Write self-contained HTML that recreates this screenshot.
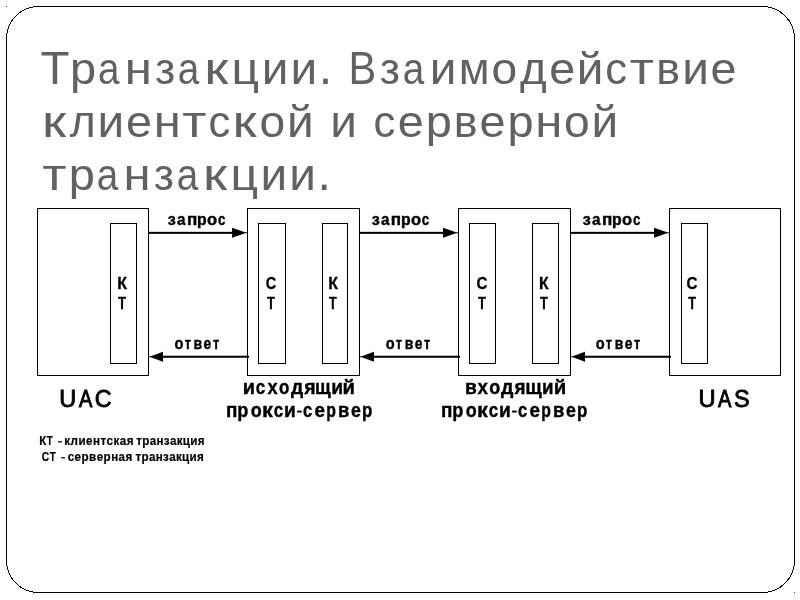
<!DOCTYPE html>
<html><head><meta charset="utf-8">
<style>
html,body{margin:0;padding:0;background:#fff;}
body{width:800px;height:600px;overflow:hidden;font-family:"Liberation Sans",sans-serif;}
svg{display:block;filter:grayscale(1);}
text{font-family:"Liberation Sans",sans-serif;}
</style></head><body>
<svg width="800" height="600" viewBox="0 0 800 600">
<rect x="0" y="0" width="800" height="600" fill="#fff"/>
<rect x="6.5" y="6.5" width="788" height="586" rx="32" ry="32" fill="none" stroke="#000" stroke-width="1" shape-rendering="crispEdges"/>
<rect x="6" y="6" width="1" height="1" fill="#333"/><rect x="794" y="592" width="1" height="1" fill="#333"/>
<g fill="none" stroke="#000" stroke-width="1" shape-rendering="crispEdges">
<rect x="37.5" y="208.5" width="111" height="167"/>
<rect x="110.5" y="223.5" width="26" height="140"/>
<rect x="247.5" y="208.5" width="112" height="167"/>
<rect x="258.5" y="223.5" width="27" height="140"/>
<rect x="322.5" y="223.5" width="25" height="140"/>
<rect x="458.5" y="208.5" width="112" height="167"/>
<rect x="469.5" y="223.5" width="26" height="140"/>
<rect x="532.5" y="223.5" width="26" height="140"/>
<rect x="669.5" y="208.5" width="111" height="167"/>
<rect x="681.5" y="223.5" width="26" height="140"/>
</g>
<g fill="#000">
<rect x="149" y="231.85" width="84.0" height="2"/><polygon points="232.0,227.85 232.0,237.85 245.0,233.35 247.5,233.35 247.5,232.35 245.0,232.35"/>
<rect x="360" y="231.85" width="84.0" height="2"/><polygon points="443.0,227.85 443.0,237.85 456.0,233.35 458.5,233.35 458.5,232.35 456.0,232.35"/>
<rect x="571" y="231.85" width="84.0" height="2"/><polygon points="654.0,227.85 654.0,237.85 667.0,233.35 669.5,233.35 669.5,232.35 667.0,232.35"/>
<rect x="162" y="355.75" width="87" height="2"/><polygon points="163,351.75 163,361.75 150.8,357.35 149,357.35 149,356.15 150.8,356.15"/>
<rect x="373" y="355.75" width="87" height="2"/><polygon points="374,351.75 374,361.75 361.8,357.35 360,357.35 360,356.15 361.8,356.15"/>
<rect x="584" y="355.75" width="87" height="2"/><polygon points="585,351.75 585,361.75 572.8,357.35 571,357.35 571,356.15 572.8,356.15"/>
</g>
<g font-size="43" fill="#616161">
<text transform="translate(40.45,83.75) scale(1.103,1.068)">Т</text>
<text transform="translate(69.91,83.75) scale(1.091,1.032)">р</text>
<text transform="translate(97.98,83.75) scale(0.899,1.032)">а</text>
<text transform="translate(124.83,83.75) scale(1.141,1.033)">н</text>
<text transform="translate(154.94,83.75) scale(1.029,1.043)">з</text>
<text transform="translate(177.85,83.75) scale(0.899,1.032)">а</text>
<text transform="translate(204.28,83.75) scale(1.281,1.033)">к</text>
<text transform="translate(231.59,83.75) scale(1.120,1.033)">ц</text>
<text transform="translate(261.73,83.75) scale(1.111,1.033)">и</text>
<text transform="translate(290.53,83.75) scale(1.111,1.033)">и</text>
<text transform="translate(318.66,83.75) scale(1.125,1.167)">.</text>
<text transform="translate(348.57,83.75) scale(0.967,1.068)">В</text>
<text transform="translate(379.77,83.75) scale(1.029,1.043)">з</text>
<text transform="translate(402.70,83.75) scale(0.899,1.032)">а</text>
<text transform="translate(429.64,83.75) scale(1.111,1.033)">и</text>
<text transform="translate(458.64,83.75) scale(1.043,1.033)">м</text>
<text transform="translate(491.42,83.75) scale(1.074,1.032)">о</text>
<text transform="translate(519.92,83.75) scale(1.063,1.033)">д</text>
<text transform="translate(549.13,83.75) scale(1.086,1.032)">е</text>
<text transform="translate(576.76,83.75) scale(1.111,1.023)">й</text>
<text transform="translate(605.37,83.75) scale(1.014,1.032)">с</text>
<text transform="translate(629.70,83.75) scale(1.233,1.033)">т</text>
<text transform="translate(656.16,83.75) scale(1.042,1.033)">в</text>
<text transform="translate(682.14,83.75) scale(1.111,1.033)">и</text>
<text transform="translate(710.62,83.75) scale(1.086,1.032)">е</text>
<text transform="translate(41.96,136.75) scale(1.281,1.033)">к</text>
<text transform="translate(69.85,136.75) scale(1.034,1.033)">л</text>
<text transform="translate(97.61,136.75) scale(1.111,1.033)">и</text>
<text transform="translate(126.09,136.75) scale(1.086,1.032)">е</text>
<text transform="translate(153.63,136.75) scale(1.141,1.033)">н</text>
<text transform="translate(182.34,136.75) scale(1.233,1.033)">т</text>
<text transform="translate(208.39,136.75) scale(1.014,1.032)">с</text>
<text transform="translate(232.57,136.75) scale(1.281,1.033)">к</text>
<text transform="translate(259.59,136.75) scale(1.074,1.032)">о</text>
<text transform="translate(287.04,136.75) scale(1.111,1.023)">й</text>
<text transform="translate(330.36,136.75) scale(1.111,1.033)">и</text>
<text transform="translate(373.50,136.75) scale(1.014,1.032)">с</text>
<text transform="translate(397.85,136.75) scale(1.086,1.032)">е</text>
<text transform="translate(425.82,136.75) scale(1.091,1.032)">р</text>
<text transform="translate(453.83,136.75) scale(1.042,1.033)">в</text>
<text transform="translate(479.49,136.75) scale(1.086,1.032)">е</text>
<text transform="translate(507.46,136.75) scale(1.091,1.032)">р</text>
<text transform="translate(535.17,136.75) scale(1.141,1.033)">н</text>
<text transform="translate(563.94,136.75) scale(1.074,1.032)">о</text>
<text transform="translate(591.39,136.75) scale(1.111,1.023)">й</text>
<text transform="translate(42.13,189.75) scale(1.233,1.033)">т</text>
<text transform="translate(68.69,189.75) scale(1.091,1.032)">р</text>
<text transform="translate(96.76,189.75) scale(0.899,1.032)">а</text>
<text transform="translate(123.61,189.75) scale(1.141,1.033)">н</text>
<text transform="translate(153.72,189.75) scale(1.029,1.043)">з</text>
<text transform="translate(176.63,189.75) scale(0.899,1.032)">а</text>
<text transform="translate(203.07,189.75) scale(1.281,1.033)">к</text>
<text transform="translate(230.38,189.75) scale(1.120,1.033)">ц</text>
<text transform="translate(260.53,189.75) scale(1.111,1.033)">и</text>
<text transform="translate(289.31,189.75) scale(1.111,1.033)">и</text>
<text transform="translate(317.44,189.75) scale(1.125,1.167)">.</text>
</g>
<g fill="#000">
<text transform="translate(167.84,224.8) scale(1.014,1)" font-size="16" font-weight="bold" stroke="#000" stroke-width="0.4">з</text>
<text transform="translate(177.07,224.8) scale(0.953,1)" font-size="16" font-weight="bold" stroke="#000" stroke-width="0.4">а</text>
<text transform="translate(186.88,224.8) scale(1.067,1)" font-size="16" font-weight="bold" stroke="#000" stroke-width="0.4">п</text>
<text transform="translate(197.06,224.8) scale(0.988,1)" font-size="16" font-weight="bold" stroke="#000" stroke-width="0.4">р</text>
<text transform="translate(207.07,224.8) scale(1.035,1)" font-size="16" font-weight="bold" stroke="#000" stroke-width="0.4">о</text>
<text transform="translate(217.93,224.8) scale(0.826,1)" font-size="16" font-weight="bold" stroke="#000" stroke-width="0.4">с</text>
<text transform="translate(371.74,224.8) scale(1.014,1)" font-size="16" font-weight="bold" stroke="#000" stroke-width="0.4">з</text>
<text transform="translate(380.97,224.8) scale(0.953,1)" font-size="16" font-weight="bold" stroke="#000" stroke-width="0.4">а</text>
<text transform="translate(390.78,224.8) scale(1.067,1)" font-size="16" font-weight="bold" stroke="#000" stroke-width="0.4">п</text>
<text transform="translate(400.96,224.8) scale(0.988,1)" font-size="16" font-weight="bold" stroke="#000" stroke-width="0.4">р</text>
<text transform="translate(410.97,224.8) scale(1.035,1)" font-size="16" font-weight="bold" stroke="#000" stroke-width="0.4">о</text>
<text transform="translate(421.83,224.8) scale(0.826,1)" font-size="16" font-weight="bold" stroke="#000" stroke-width="0.4">с</text>
<text transform="translate(582.84,224.8) scale(1.014,1)" font-size="16" font-weight="bold" stroke="#000" stroke-width="0.4">з</text>
<text transform="translate(592.07,224.8) scale(0.953,1)" font-size="16" font-weight="bold" stroke="#000" stroke-width="0.4">а</text>
<text transform="translate(601.88,224.8) scale(1.067,1)" font-size="16" font-weight="bold" stroke="#000" stroke-width="0.4">п</text>
<text transform="translate(612.06,224.8) scale(0.988,1)" font-size="16" font-weight="bold" stroke="#000" stroke-width="0.4">р</text>
<text transform="translate(622.07,224.8) scale(1.035,1)" font-size="16" font-weight="bold" stroke="#000" stroke-width="0.4">о</text>
<text transform="translate(632.93,224.8) scale(0.826,1)" font-size="16" font-weight="bold" stroke="#000" stroke-width="0.4">с</text>
<text transform="translate(174.62,348.8) scale(0.912,1)" font-size="16" font-weight="bold" stroke="#000" stroke-width="0.4">о</text>
<text transform="translate(184.76,348.8) scale(0.786,1)" font-size="16" font-weight="bold" stroke="#000" stroke-width="0.4">т</text>
<text transform="translate(193.58,348.8) scale(0.873,1)" font-size="16" font-weight="bold" stroke="#000" stroke-width="0.4">в</text>
<text transform="translate(203.60,348.8) scale(0.867,1)" font-size="16" font-weight="bold" stroke="#000" stroke-width="0.4">е</text>
<text transform="translate(212.96,348.8) scale(0.786,1)" font-size="16" font-weight="bold" stroke="#000" stroke-width="0.4">т</text>
<text transform="translate(385.72,348.8) scale(0.912,1)" font-size="16" font-weight="bold" stroke="#000" stroke-width="0.4">о</text>
<text transform="translate(395.86,348.8) scale(0.786,1)" font-size="16" font-weight="bold" stroke="#000" stroke-width="0.4">т</text>
<text transform="translate(404.68,348.8) scale(0.873,1)" font-size="16" font-weight="bold" stroke="#000" stroke-width="0.4">в</text>
<text transform="translate(414.70,348.8) scale(0.867,1)" font-size="16" font-weight="bold" stroke="#000" stroke-width="0.4">е</text>
<text transform="translate(424.06,348.8) scale(0.786,1)" font-size="16" font-weight="bold" stroke="#000" stroke-width="0.4">т</text>
<text transform="translate(595.72,348.8) scale(0.912,1)" font-size="16" font-weight="bold" stroke="#000" stroke-width="0.4">о</text>
<text transform="translate(605.86,348.8) scale(0.786,1)" font-size="16" font-weight="bold" stroke="#000" stroke-width="0.4">т</text>
<text transform="translate(614.68,348.8) scale(0.873,1)" font-size="16" font-weight="bold" stroke="#000" stroke-width="0.4">в</text>
<text transform="translate(624.70,348.8) scale(0.867,1)" font-size="16" font-weight="bold" stroke="#000" stroke-width="0.4">е</text>
<text transform="translate(634.06,348.8) scale(0.786,1)" font-size="16" font-weight="bold" stroke="#000" stroke-width="0.4">т</text>
<text transform="translate(59.31,407.25) scale(1.008,1)" font-size="23.3" font-weight="normal" stroke="#000" stroke-width="0.85">U</text>
<text transform="translate(79.08,407.25) scale(0.861,1)" font-size="23.3" font-weight="normal" stroke="#000" stroke-width="0.85">A</text>
<text transform="translate(94.82,407.25) scale(1.003,1)" font-size="23.3" font-weight="normal" stroke="#000" stroke-width="0.85">C</text>
<text transform="translate(698.50,407.25) scale(1.015,1)" font-size="23.3" font-weight="normal" stroke="#000" stroke-width="0.85">U</text>
<text transform="translate(718.07,407.25) scale(0.861,1)" font-size="23.3" font-weight="normal" stroke="#000" stroke-width="0.85">A</text>
<text transform="translate(734.06,407.25) scale(1.011,1)" font-size="23.3" font-weight="normal" stroke="#000" stroke-width="0.85">S</text>
<text transform="translate(39.23,444.9) scale(0.954,1)" font-size="12" font-weight="bold" stroke="#000" stroke-width="0.2">К</text>
<text transform="translate(46.85,444.9) scale(0.814,1)" font-size="12" font-weight="bold" stroke="#000" stroke-width="0.2">Т</text>
<text transform="translate(41.82,461) scale(0.852,1)" font-size="12" font-weight="bold" stroke="#000" stroke-width="0.2">С</text>
<text transform="translate(49.65,461) scale(0.814,1)" font-size="12" font-weight="bold" stroke="#000" stroke-width="0.2">Т</text>
<text transform="translate(242.75,393.9) scale(1.000,1)" font-size="20" font-weight="bold" stroke="#000" stroke-width="0.4">и</text>
<text transform="translate(255.81,393.9) scale(0.851,1)" font-size="20" font-weight="bold" stroke="#000" stroke-width="0.4">с</text>
<text transform="translate(267.52,393.9) scale(0.912,1)" font-size="20" font-weight="bold" stroke="#000" stroke-width="0.4">х</text>
<text transform="translate(279.12,393.9) scale(0.847,1)" font-size="20" font-weight="bold" stroke="#000" stroke-width="0.4">о</text>
<text transform="translate(291.06,393.9) scale(0.963,1)" font-size="20" font-weight="bold" stroke="#000" stroke-width="0.4">д</text>
<text transform="translate(304.25,393.9) scale(0.976,1)" font-size="20" font-weight="bold" stroke="#000" stroke-width="0.4">я</text>
<text transform="translate(315.11,393.9) scale(0.928,1)" font-size="20" font-weight="bold" stroke="#000" stroke-width="0.4">щ</text>
<text transform="translate(331.25,393.9) scale(0.968,1)" font-size="20" font-weight="bold" stroke="#000" stroke-width="0.4">и</text>
<text transform="translate(342.43,393.9) scale(1.016,1)" font-size="20" font-weight="bold" stroke="#000" stroke-width="0.4">й</text>
<text transform="translate(464.95,393.9) scale(0.965,1)" font-size="20" font-weight="bold" stroke="#000" stroke-width="0.4">в</text>
<text transform="translate(477.42,393.9) scale(0.940,1)" font-size="20" font-weight="bold" stroke="#000" stroke-width="0.4">х</text>
<text transform="translate(489.13,393.9) scale(0.898,1)" font-size="20" font-weight="bold" stroke="#000" stroke-width="0.4">о</text>
<text transform="translate(501.01,393.9) scale(0.975,1)" font-size="20" font-weight="bold" stroke="#000" stroke-width="0.4">д</text>
<text transform="translate(514.55,393.9) scale(0.946,1)" font-size="20" font-weight="bold" stroke="#000" stroke-width="0.4">я</text>
<text transform="translate(525.18,393.9) scale(0.977,1)" font-size="20" font-weight="bold" stroke="#000" stroke-width="0.4">щ</text>
<text transform="translate(542.04,393.9) scale(0.937,1)" font-size="20" font-weight="bold" stroke="#000" stroke-width="0.4">и</text>
<text transform="translate(553.63,393.9) scale(1.016,1)" font-size="20" font-weight="bold" stroke="#000" stroke-width="0.4">й</text>
<text transform="translate(226.08,416.6) scale(0.946,1)" font-size="20" font-weight="bold" stroke="#000" stroke-width="0.4">п</text>
<text transform="translate(237.32,416.6) scale(0.907,1)" font-size="20" font-weight="bold" stroke="#000" stroke-width="0.4">р</text>
<text transform="translate(250.68,416.6) scale(0.898,1)" font-size="20" font-weight="bold" stroke="#000" stroke-width="0.4">о</text>
<text transform="translate(261.88,416.6) scale(1.082,1)" font-size="20" font-weight="bold" stroke="#000" stroke-width="0.4">к</text>
<text transform="translate(273.66,416.6) scale(0.851,1)" font-size="20" font-weight="bold" stroke="#000" stroke-width="0.4">с</text>
<text transform="translate(283.91,416.6) scale(0.958,1)" font-size="20" font-weight="bold" stroke="#000" stroke-width="0.4">и</text>
<text transform="translate(302.93,416.6) scale(0.831,1)" font-size="20" font-weight="bold" stroke="#000" stroke-width="0.4">с</text>
<text transform="translate(314.39,416.6) scale(0.944,1)" font-size="20" font-weight="bold" stroke="#000" stroke-width="0.4">е</text>
<text transform="translate(326.21,416.6) scale(0.790,1)" font-size="20" font-weight="bold" stroke="#000" stroke-width="0.4">р</text>
<text transform="translate(337.92,416.6) scale(0.920,1)" font-size="20" font-weight="bold" stroke="#000" stroke-width="0.4">в</text>
<text transform="translate(351.08,416.6) scale(0.887,1)" font-size="20" font-weight="bold" stroke="#000" stroke-width="0.4">е</text>
<text transform="translate(361.90,416.6) scale(0.844,1)" font-size="20" font-weight="bold" stroke="#000" stroke-width="0.4">р</text>
<text transform="translate(441.08,416.6) scale(0.946,1)" font-size="20" font-weight="bold" stroke="#000" stroke-width="0.4">п</text>
<text transform="translate(452.32,416.6) scale(0.907,1)" font-size="20" font-weight="bold" stroke="#000" stroke-width="0.4">р</text>
<text transform="translate(465.68,416.6) scale(0.898,1)" font-size="20" font-weight="bold" stroke="#000" stroke-width="0.4">о</text>
<text transform="translate(476.88,416.6) scale(1.082,1)" font-size="20" font-weight="bold" stroke="#000" stroke-width="0.4">к</text>
<text transform="translate(488.66,416.6) scale(0.851,1)" font-size="20" font-weight="bold" stroke="#000" stroke-width="0.4">с</text>
<text transform="translate(498.91,416.6) scale(0.958,1)" font-size="20" font-weight="bold" stroke="#000" stroke-width="0.4">и</text>
<text transform="translate(517.93,416.6) scale(0.831,1)" font-size="20" font-weight="bold" stroke="#000" stroke-width="0.4">с</text>
<text transform="translate(529.39,416.6) scale(0.944,1)" font-size="20" font-weight="bold" stroke="#000" stroke-width="0.4">е</text>
<text transform="translate(541.21,416.6) scale(0.790,1)" font-size="20" font-weight="bold" stroke="#000" stroke-width="0.4">р</text>
<text transform="translate(552.92,416.6) scale(0.920,1)" font-size="20" font-weight="bold" stroke="#000" stroke-width="0.4">в</text>
<text transform="translate(566.08,416.6) scale(0.887,1)" font-size="20" font-weight="bold" stroke="#000" stroke-width="0.4">е</text>
<text transform="translate(576.90,416.6) scale(0.844,1)" font-size="20" font-weight="bold" stroke="#000" stroke-width="0.4">р</text>
<text transform="translate(117.20,288.8) scale(1.000,1)" font-size="16" font-weight="bold" stroke="#000" stroke-width="0.3">К</text>
<text transform="translate(117.99,308.9) scale(0.822,1)" font-size="16" font-weight="bold" stroke="#000" stroke-width="0.3">Т</text>
<text transform="translate(265.72,288.8) scale(0.907,1)" font-size="16" font-weight="bold" stroke="#000" stroke-width="0.3">С</text>
<text transform="translate(267.10,308.9) scale(0.811,1)" font-size="16" font-weight="bold" stroke="#000" stroke-width="0.3">Т</text>
<text transform="translate(328.20,288.8) scale(1.000,1)" font-size="16" font-weight="bold" stroke="#000" stroke-width="0.3">К</text>
<text transform="translate(329.10,308.9) scale(0.789,1)" font-size="16" font-weight="bold" stroke="#000" stroke-width="0.3">Т</text>
<text transform="translate(476.49,288.8) scale(0.951,1)" font-size="16" font-weight="bold" stroke="#000" stroke-width="0.3">С</text>
<text transform="translate(478.00,308.9) scale(0.811,1)" font-size="16" font-weight="bold" stroke="#000" stroke-width="0.3">Т</text>
<text transform="translate(539.06,288.8) scale(0.989,1)" font-size="16" font-weight="bold" stroke="#000" stroke-width="0.3">К</text>
<text transform="translate(540.10,308.9) scale(0.811,1)" font-size="16" font-weight="bold" stroke="#000" stroke-width="0.3">Т</text>
<text transform="translate(686.49,288.8) scale(0.951,1)" font-size="16" font-weight="bold" stroke="#000" stroke-width="0.3">С</text>
<text transform="translate(688.20,308.9) scale(0.789,1)" font-size="16" font-weight="bold" stroke="#000" stroke-width="0.3">Т</text>
</g>
<g fill="#000" style="font-kerning:none">
<text transform="translate(64.22,444.9) scale(0.97,1)" style="letter-spacing:0.489px" font-size="12" font-weight="bold" stroke="#000" stroke-width="0.2">клиентская</text>
<text transform="translate(136.21,444.9) scale(0.97,1)" style="letter-spacing:0.332px" font-size="12" font-weight="bold" stroke="#000" stroke-width="0.2">транзакция</text>
<text transform="translate(67.67,461) scale(0.97,1)" style="letter-spacing:0.464px" font-size="12" font-weight="bold" stroke="#000" stroke-width="0.2">серверная</text>
<text transform="translate(135.61,461) scale(0.97,1)" style="letter-spacing:0.309px" font-size="12" font-weight="bold" stroke="#000" stroke-width="0.2">транзакция</text>
</g>
<rect x="297.1" y="410.6" width="4.6" height="1.9" fill="#000"/><rect x="512.1" y="410.6" width="4.6" height="1.9" fill="#000"/>
<rect x="58" y="441.2" width="4" height="1.2" fill="#000"/><rect x="61.1" y="457.2" width="4" height="1.2" fill="#000"/>
</svg>
</body></html>
